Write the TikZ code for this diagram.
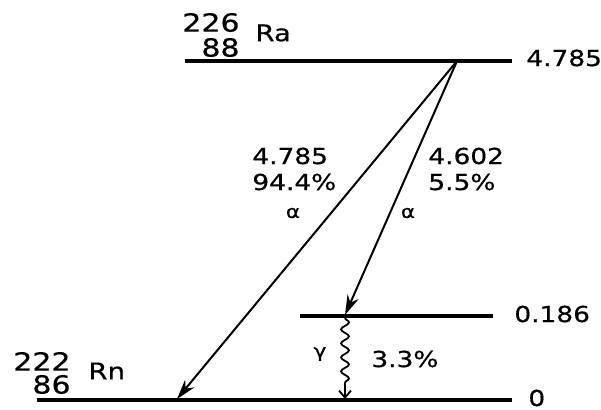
\documentclass[tikz,border=0pt]{standalone}
\usepackage{fontspec}
\setmainfont{DejaVu Sans}[FakeStretch=1.2, FakeBold=0.6]
\usepackage{tikz}
\usetikzlibrary{arrows.meta, decorations.pathmorphing}

\tikzset{
    level/.style={line width=1.8pt},
    decay/.style={line width=1pt, -{Stealth[length=10pt,width=6pt]}},
    gammaray/.style={line width=0.9pt, decorate,
        decoration={snake, amplitude=2pt, segment length=7pt, post length=5pt},
        -{Straight Barb[length=3.5pt,width=6pt]}},
    lbl/.style={inner sep=0pt, font=\fontsize{11}{13}\selectfont},
    nucl/.style={inner sep=0pt, align=right, font=\fontsize{12.5}{12.5}\selectfont},
    greek/.style={inner sep=0pt, font=\fontsize{9}{9}\selectfont}
}

\begin{document}
\begin{tikzpicture}[x=0.5pt, y=-0.5pt]
        \useasboundingbox (0,0) rectangle (601,409);
        % levels
        \coordinate (raL) at (185,61);  \coordinate (raR) at (512,61);
        \coordinate (exL) at (300,316); \coordinate (exR) at (493,316);
        \coordinate (gsL) at (37,400);  \coordinate (gsR) at (512,400);
        \draw[level] (raL) -- (raR);
        \draw[level] (exL) -- (exR);
        \draw[level] (gsL) -- (gsR);
        \node[lbl, anchor=west] (eRa) at (526,58) {4.785};
        \node[lbl, anchor=west] (eEx) at (514,314) {0.186};
        \node[lbl, anchor=west] (eGs) at (528,398) {0};
        % nuclides
        \node[nucl, anchor=east] (zRa) at (240,35) {226\\88};
        \node[lbl, anchor=west, font=\fontsize{11.5}{12}\selectfont] (ra) at (255,33) {Ra};
        \node[nucl, anchor=east, font=\fontsize{12.5}{11.5}\selectfont] (zRn) at (71,373) {222\\86};
        \node[lbl, anchor=west, font=\fontsize{11.5}{12}\selectfont] (rn) at (88,371) {Rn};
        % transitions
        \coordinate (src) at (457,61);
        \coordinate (tipA) at (177,399);
        \coordinate (tipB) at (345,315);
        \coordinate (gTop) at (345,318);
        \coordinate (gBot) at (345,399);
        \draw[decay] (src) -- (tipA);
        \draw[decay] (src) -- (tipB);
        \draw[gammaray] (gTop) -- (gBot);
        \node[lbl, align=left, anchor=west] (aMain) at (252,169) {4.785\\94.4\%};
        \node[greek] (alphaMain) at (293,213) {α};
        \node[lbl, align=left, anchor=west] (aSide) at (428,169) {4.602\\5.5\%};
        \node[greek] (alphaSide) at (408,213) {α};
        \node[greek] (gam) at (320,354) {γ};
        \node[lbl, anchor=west] (gPct) at (371,359) {3.3\%};
    \end{tikzpicture}
\end{document}
